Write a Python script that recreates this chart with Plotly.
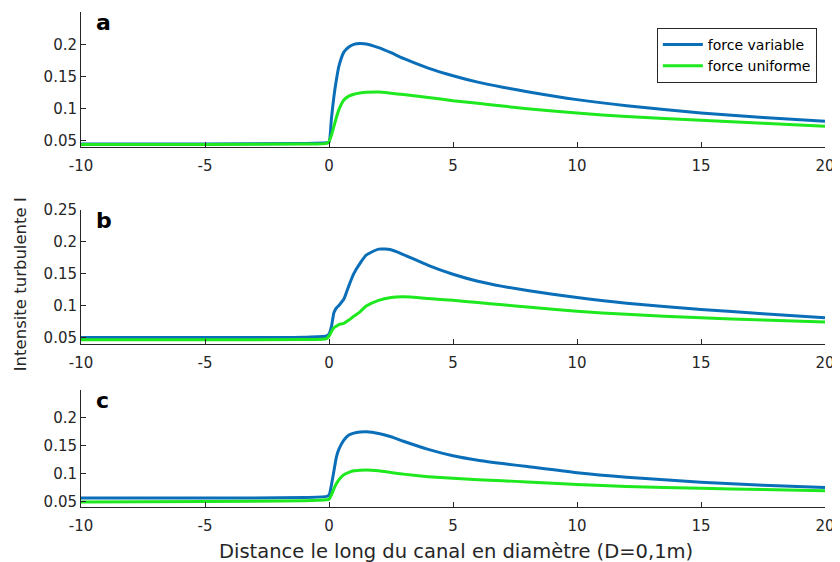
import plotly.graph_objects as go
from plotly.subplots import make_subplots

# Distance along the channel (diameters)
x_pos = [-10, -5, -1, -0.1, 0, 0.1, 0.2, 0.3, 0.4, 0.6, 0.8, 1.0, 1.25, 1.5, 2, 2.5, 3, 4, 5, 6, 7, 8, 10, 12, 15, 17.5, 20]

# Panel a
a_variable = [0.044, 0.044, 0.045, 0.046, 0.047, 0.085, 0.119, 0.145, 0.166, 0.188, 0.196, 0.200, 0.2015, 0.2008, 0.195, 0.187, 0.178, 0.163, 0.151, 0.141, 0.133, 0.126, 0.1136, 0.104, 0.0928, 0.0855, 0.0797]
a_uniforme = [0.0435, 0.0435, 0.044, 0.045, 0.048, 0.058, 0.072, 0.086, 0.098, 0.113, 0.119, 0.122, 0.124, 0.125, 0.1255, 0.1237, 0.1215, 0.117, 0.112, 0.108, 0.1035, 0.0995, 0.0925, 0.087, 0.0813, 0.0765, 0.072]

# Panel b
b_variable = [0.0495, 0.0495, 0.050, 0.052, 0.055, 0.067, 0.089, 0.096, 0.100, 0.110, 0.131, 0.150, 0.166, 0.179, 0.1885, 0.1875, 0.180, 0.163, 0.149, 0.138, 0.130, 0.1235, 0.1125, 0.1035, 0.0938, 0.087, 0.0807]
b_uniforme = [0.046, 0.046, 0.0465, 0.048, 0.052, 0.059, 0.065, 0.0677, 0.070, 0.072, 0.077, 0.083, 0.090, 0.099, 0.108, 0.1125, 0.1135, 0.111, 0.108, 0.1045, 0.101, 0.0975, 0.0908, 0.086, 0.0807, 0.077, 0.074]

# Panel c
c_variable = [0.056, 0.056, 0.057, 0.059, 0.061, 0.080, 0.105, 0.130, 0.144, 0.160, 0.169, 0.1725, 0.1745, 0.175, 0.172, 0.166, 0.158, 0.1435, 0.132, 0.124, 0.118, 0.1125, 0.1015, 0.0935, 0.0845, 0.079, 0.075]
c_uniforme = [0.049, 0.050, 0.051, 0.053, 0.054, 0.062, 0.073, 0.082, 0.089, 0.098, 0.102, 0.105, 0.106, 0.1065, 0.105, 0.102, 0.099, 0.0945, 0.0914, 0.089, 0.087, 0.085, 0.0805, 0.077, 0.0735, 0.0715, 0.0693]

panel_labels = ["a", "b", "c"]
series_names = ["force variable", "force uniforme"]
x_ticks = [-10, -5, 0, 5, 10, 15, 20]
x_tick_text = ["-10", "-5", "0", "5", "10", "15", "20"]
y_ticks_ac = [0.05, 0.1, 0.15, 0.2]
y_ticks_b = [0.05, 0.1, 0.15, 0.2, 0.25]

BLUE = "#0a6fb8"
GREEN = "#1ee81e"
AX = "#262626"
FONT = "DejaVu Sans"

fig = make_subplots(rows=3, cols=1)
panels = [(a_variable, a_uniforme), (b_variable, b_uniforme), (c_variable, c_uniforme)]
for i, (v, u) in enumerate(panels, start=1):
    fig.add_trace(go.Scatter(x=x_pos, y=v, mode="lines", name=series_names[0],
                             line=dict(color=BLUE, width=3, shape="spline", smoothing=0.6),
                             showlegend=(i == 1)), row=i, col=1)
    fig.add_trace(go.Scatter(x=x_pos, y=u, mode="lines", name=series_names[1],
                             line=dict(color=GREEN, width=3, shape="spline", smoothing=0.6),
                             showlegend=(i == 1)), row=i, col=1)

domains = [[0.728, 0.999], [0.33, 0.6], [0.0, 0.2364]]
for i in range(1, 4):
    sfx = "" if i == 1 else str(i)
    yt = y_ticks_b if i == 2 else y_ticks_ac
    fig.layout["xaxis" + sfx].update(
        range=[-10, 20], tickvals=x_ticks, ticktext=x_tick_text, showline=True, linecolor=AX, linewidth=1,
        ticks="inside", ticklen=5, tickcolor=AX, showgrid=False, zeroline=False, automargin=False,
        ticklabelstandoff=5,
        tickfont=dict(family=FONT, size=15, color=AX), domain=[0, 1])
    fig.layout["yaxis" + sfx].update(
        range=[0.04, 0.25], tickvals=yt, ticktext=[("%g" % t) for t in yt],
        showline=True, linecolor=AX, linewidth=1, automargin=False,
        ticks="inside", ticklen=5, tickcolor=AX, showgrid=False, zeroline=False,
        tickfont=dict(family=FONT, size=15, color=AX), domain=domains[i - 1])
    fig.add_annotation(text="<b>%s</b>" % panel_labels[i - 1], xref=("x%s domain" % sfx),
                       yref=("y%s domain" % sfx), x=0.017, y=1.0, xanchor="left", yanchor="top",
                       yshift=4, showarrow=False, font=dict(family=FONT, size=22, color="black"))

fig.add_annotation(text="Intensite turbulente I", xref="paper", yref="paper",
                   x=-0.082, y=0.45, textangle=-90, showarrow=False, xanchor="center", yanchor="middle",
                   font=dict(family=FONT, size=16.5, color=AX))
fig.add_annotation(text="Distance le long du canal en diamètre (D=0,1m)", xref="paper", yref="paper",
                   x=0.504, y=-0.09, showarrow=False, xanchor="center", yanchor="middle",
                   font=dict(family=FONT, size=19.5, color=AX))

# page body has an 8px margin, so the figure is sized to fit inside the window
fig.update_layout(
    width=832, height=554,
    margin=dict(l=73, r=15, t=4, b=55),
    paper_bgcolor="white", plot_bgcolor="white",
    font=dict(family=FONT, color=AX),
    legend=dict(x=0.774, y=0.968, xanchor="left", yanchor="top",
                bordercolor=AX, borderwidth=1, bgcolor="white",
                font=dict(family=FONT, size=14, color="black"),
                tracegroupgap=0, itemwidth=40),
)

fig.write_html("out.html")
